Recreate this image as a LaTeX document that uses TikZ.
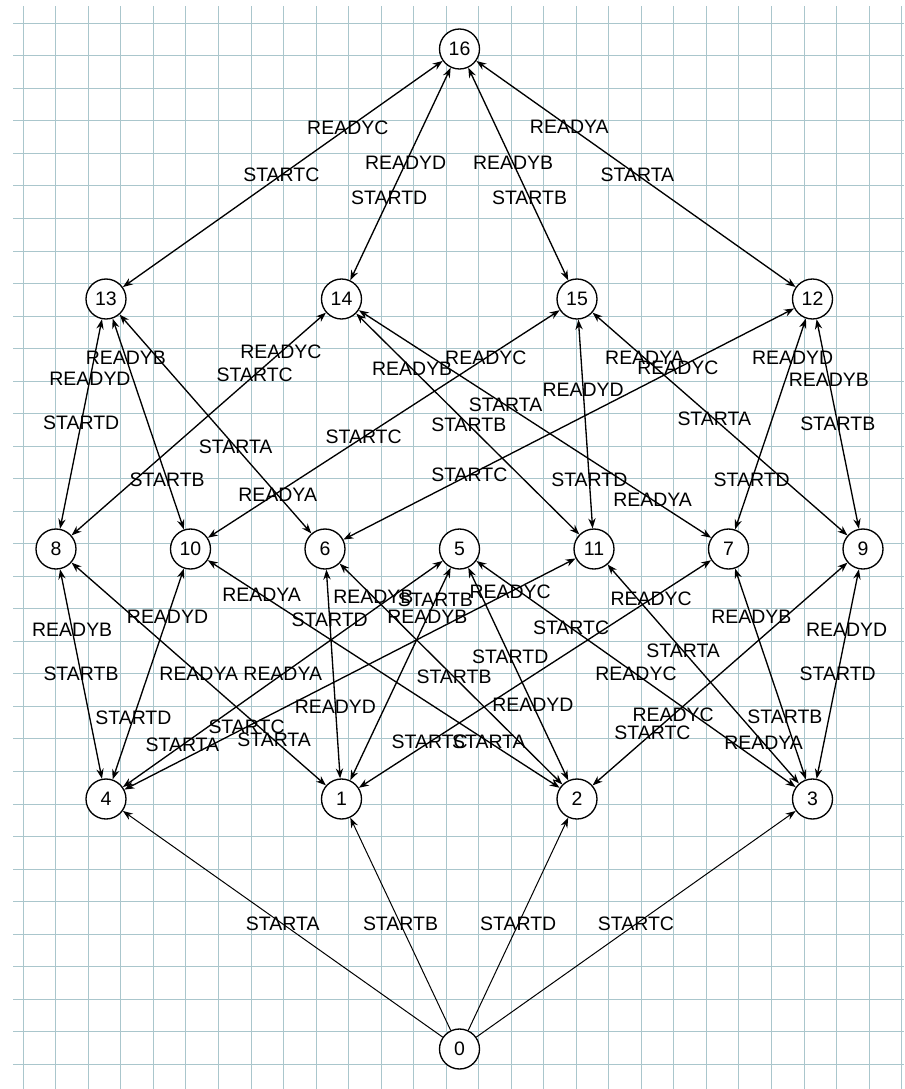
\documentclass[tikz,border=0pt]{standalone}
\usepackage{fontspec}
\setmainfont{Liberation Sans}
\usetikzlibrary{calc,arrows.meta}

\definecolor{gridcol}{RGB}{170,198,204}

\tikzset{
  st/.style={circle, draw, line width=1pt, fill=white, minimum size=30pt, inner sep=0pt},
  lbl/.style={inner sep=0pt},
  oneway/.style={-{Stealth[length=7.5pt,width=5.5pt]}, line width=0.75pt},
  twoway/.style={{Stealth[length=7.5pt,width=5.5pt]}-{Stealth[length=7.5pt,width=5.5pt]}, line width=1pt},
  gridline/.style={gridcol, line width=0.75pt}
}

\begin{document}
\begin{tikzpicture}[x=0.75pt, y=-0.75pt, font=\fontsize{14.6pt}{17pt}\selectfont]
    \useasboundingbox (0,0) rectangle (904,1089);
    \fill[white] (0,0) rectangle (904,1089);
    % background grid
    \foreach \i in {0,...,27}
        \draw[gridline] ({23.3+32.53*\i},6) -- ({23.3+32.53*\i},1089);
    \foreach \j in {0,...,32}
        \draw[gridline] (13,{23.3+32.53*\j}) -- (904,{23.3+32.53*\j});

    % states
    \node[st] (n16) at (459.5,49) {16};
    \node[st] (n13) at (106,299) {13};
    \node[st] (n14) at (341.5,299) {14};
    \node[st] (n15) at (577,299) {15};
    \node[st] (n12) at (812.5,299) {12};
    \node[st] (n8) at (56,549) {8};
    \node[st] (n10) at (190.5,549) {10};
    \node[st] (n6) at (325,549) {6};
    \node[st] (n5) at (459.5,549) {5};
    \node[st] (n11) at (594,549) {11};
    \node[st] (n7) at (728.5,549) {7};
    \node[st] (n9) at (863,549) {9};
    \node[st] (n4) at (106,799) {4};
    \node[st] (n1) at (341.5,799) {1};
    \node[st] (n2) at (577,799) {2};
    \node[st] (n3) at (812.5,799) {3};
    \node[st] (n0) at (459.5,1049) {0};

    % top level
    \draw[twoway] (n16) -- (n13);
    \node[lbl] at ($(n16)!.316!(n13)$) {READYC};
    \node[lbl] at ($(n16)!.504!(n13)$) {STARTC};
    \draw[twoway] (n16) -- (n14);
    \node[lbl] at ($(n16)!.456!(n14)$) {READYD};
    \node[lbl] at ($(n16)!.596!(n14)$) {STARTD};
    \draw[twoway] (n16) -- (n15);
    \node[lbl] at ($(n16)!.456!(n15)$) {READYB};
    \node[lbl] at ($(n16)!.596!(n15)$) {STARTB};
    \draw[twoway] (n16) -- (n12);
    \node[lbl] at ($(n16)!.311!(n12)$) {READYA};
    \node[lbl] at ($(n16)!.504!(n12)$) {STARTA};

    % third row to second row
    \draw[twoway] (n13) -- (n8);
    \node[lbl] at ($(n13)!.32!(n8)$) {READYD};
    \node[lbl] at ($(n13)!.496!(n8)$) {STARTD};
    \draw[twoway] (n13) -- (n10);
    \node[lbl] at ($(n13)!.236!(n10)$) {READYB};
    \node[lbl] at ($(n13)!.724!(n10)$) {STARTB};
    \draw[twoway] (n13) -- (n6);
    \node[lbl] at ($(n13)!.592!(n6)$) {STARTA};
    \node[lbl] at ($(n13)!.784!(n6)$) {READYA};
    \draw[twoway] (n14) -- (n8);
    \node[lbl] at ($(n14)!.212!(n8)$) {READYC};
    \node[lbl] at ($(n14)!.304!(n8)$) {STARTC};
    \draw[twoway] (n14) -- (n11);
    \node[lbl] at ($(n14)!.28!(n11)$) {READYB};
    \node[lbl] at ($(n14)!.504!(n11)$) {STARTB};
    \draw[twoway] (n14) -- (n7);
    \node[lbl] at ($(n14)!.424!(n7)$) {STARTA};
    \node[lbl] at ($(n14)!.804!(n7)$) {READYA};
    \draw[twoway] (n15) -- (n10);
    \node[lbl] at ($(n15)!.236!(n10)$) {READYC};
    \node[lbl] at ($(n15)!.552!(n10)$) {STARTC};
    \draw[twoway] (n15) -- (n11);
    \node[lbl] at ($(n15)!.364!(n11)$) {READYD};
    \node[lbl] at ($(n15)!.724!(n11)$) {STARTD};
    \draw[twoway] (n15) -- (n9);
    \node[lbl] at ($(n15)!.236!(n9)$) {READYA};
    \node[lbl] at ($(n15)!.48!(n9)$) {STARTA};
    \draw[twoway] (n12) -- (n6);
    \node[lbl] at ($(n12)!.276!(n6)$) {READYC};
    \node[lbl] at ($(n12)!.704!(n6)$) {STARTC};
    \draw[twoway] (n12) -- (n7);
    \node[lbl] at ($(n12)!.236!(n7)$) {READYD};
    \node[lbl] at ($(n12)!.724!(n7)$) {STARTD};
    \draw[twoway] (n12) -- (n9);
    \node[lbl] at ($(n12)!.324!(n9)$) {READYB};
    \node[lbl] at ($(n12)!.5!(n9)$) {STARTB};

    % second row to first row
    \draw[twoway] (n8) -- (n4);
    \node[lbl] at ($(n8)!.324!(n4)$) {READYB};
    \node[lbl] at ($(n8)!.5!(n4)$) {STARTB};
    \draw[twoway] (n8) -- (n1);
    \node[lbl] at ($(n8)!.5!(n1)$) {READYA};
    \node[lbl] at ($(n8)!.764!(n1)$) {STARTA};
    \draw[twoway] (n10) -- (n4);
    \node[lbl] at ($(n10)!.272!(n4)$) {READYD};
    \node[lbl] at ($(n10)!.676!(n4)$) {STARTD};
    \draw[twoway] (n10) -- (n2);
    \node[lbl] at ($(n10)!.184!(n2)$) {READYA};
    \node[lbl] at ($(n10)!.772!(n2)$) {STARTA};
    \draw[twoway] (n6) -- (n1);
    \node[lbl] at ($(n6)!.284!(n1)$) {STARTD};
    \node[lbl] at ($(n6)!.63!(n1)$) {READYD};
    \draw[twoway] (n6) -- (n2);
    \node[lbl] at ($(n6)!.192!(n2)$) {READYB};
    \node[lbl] at ($(n6)!.512!(n2)$) {STARTB};
    \draw[twoway] (n5) -- (n4);
    \node[lbl] at ($(n5)!.5!(n4)$) {READYA};
    \node[lbl] at ($(n5)!.784!(n4)$) {STARTA};
    \draw[twoway] (n5) -- (n1);
    \node[lbl] at ($(n5)!.204!(n1)$) {STARTB};
    \node[lbl] at ($(n5)!.272!(n1)$) {READYB};
    \draw[twoway] (n5) -- (n2);
    \node[lbl] at ($(n5)!.432!(n2)$) {STARTD};
    \node[lbl] at ($(n5)!.624!(n2)$) {READYD};
    \draw[twoway] (n5) -- (n3);
    \node[lbl] at ($(n5)!.316!(n3)$) {STARTC};
    \node[lbl] at ($(n5)!.5!(n3)$) {READYC};
    \draw[twoway] (n11) -- (n4);
    \node[lbl] at ($(n11)!.172!(n4)$) {READYC};
    \node[lbl] at ($(n11)!.712!(n4)$) {STARTC};
    \draw[twoway] (n11) -- (n3);
    \node[lbl] at ($(n11)!.408!(n3)$) {STARTA};
    \node[lbl] at ($(n11)!.776!(n3)$) {READYA};
    \draw[twoway] (n7) -- (n1);
    \node[lbl] at ($(n7)!.2!(n1)$) {READYC};
    \node[lbl] at ($(n7)!.772!(n1)$) {STARTC};
    \draw[twoway] (n7) -- (n3);
    \node[lbl] at ($(n7)!.272!(n3)$) {READYB};
    \node[lbl] at ($(n7)!.672!(n3)$) {STARTB};
    \draw[twoway] (n9) -- (n2);
    \node[lbl] at ($(n9)!.664!(n2)$) {READYC};
    \node[lbl] at ($(n9)!.736!(n2)$) {STARTC};
    \draw[twoway] (n9) -- (n3);
    \node[lbl] at ($(n9)!.324!(n3)$) {READYD};
    \node[lbl] at ($(n9)!.5!(n3)$) {STARTD};

    % from the start state
    \draw[oneway] (n0) -- (n4);
    \node[lbl] at ($(n0)!.5!(n4)$) {STARTA};
    \draw[oneway] (n0) -- (n1);
    \node[lbl] at ($(n0)!.5!(n1)$) {STARTB};
    \draw[oneway] (n0) -- (n2);
    \node[lbl] at ($(n0)!.5!(n2)$) {STARTD};
    \draw[oneway] (n0) -- (n3);
    \node[lbl] at ($(n0)!.5!(n3)$) {STARTC};
\end{tikzpicture}
\end{document}
